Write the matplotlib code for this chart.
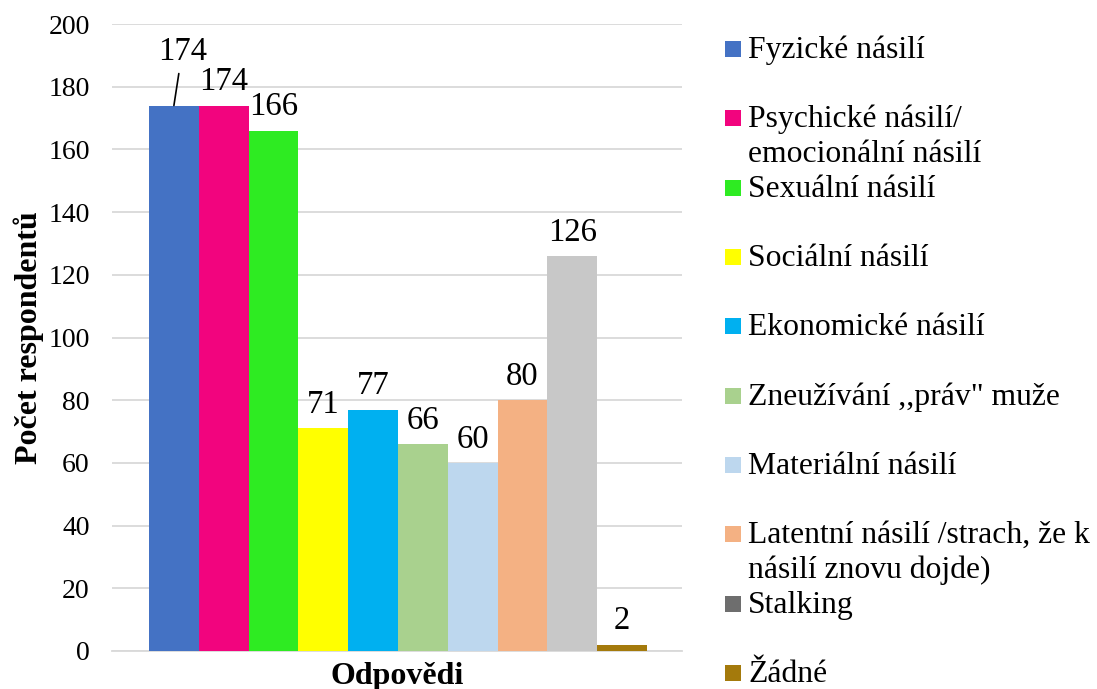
import matplotlib
matplotlib.use("Agg")
import matplotlib.pyplot as plt
from matplotlib.patches import Rectangle

plt.rcParams['font.family'] = ['Liberation Serif', 'DejaVu Serif']

categories = [
    "Fyzické násilí",
    "Psychické násilí/\nemocionální násilí",
    "Sexuální násilí",
    "Sociální násilí",
    "Ekonomické násilí",
    "Zneužívání ,,práv\" muže",
    "Materiální násilí",
    "Latentní násilí /strach, že k\nnásilí znovu dojde)",
    "Stalking",
    "Žádné",
]
values = [174, 174, 166, 71, 77, 66, 60, 80, 126, 2]
bar_colors = ["#4472C4", "#F2047E", "#2EEB22", "#FFFF00", "#00B0F0",
              "#A9D18E", "#BDD7EE", "#F4B183", "#C8C8C8", "#A47A0C"]
legend_colors = ["#4472C4", "#F2047E", "#2EEB22", "#FFFF00", "#00B0F0",
                 "#A9D18E", "#BDD7EE", "#F4B183", "#6E6E6E", "#A47A0C"]
yticks = [0, 20, 40, 60, 80, 100, 120, 140, 160, 180, 200]
ylabel = "Počet respondentů"
xlabel = "Odpovědi"

W, H = 1097, 689
fig = plt.figure(figsize=(W / 100, H / 100), dpi=100)
ax = fig.add_axes([112 / W, 1 - 651 / H, (682 - 112) / W, (651 - 24) / H])

x = list(range(len(values)))
ax.bar(x, values, width=1.0, color=bar_colors, zorder=3)

ax.set_xlim(-1.243, 10.203)
ax.set_ylim(0, 200)
ax.set_yticks(yticks)
ax.set_yticklabels([str(t) for t in yticks], fontsize=20)
ax.set_xticks([])
ax.yaxis.grid(True, color="#D9D9D9", lw=1.3, zorder=0)
for s in ["left", "right", "top"]:
    ax.spines[s].set_visible(False)
ax.spines["bottom"].set_color("#D9D9D9")
ax.spines["bottom"].set_linewidth(1.3)
ax.tick_params(axis='y', length=0, pad=16)

ax.set_ylabel(ylabel, fontsize=23, fontweight='bold', labelpad=3)
ax.set_xlabel(xlabel, fontsize=23, fontweight='bold', labelpad=8)

# data labels
for i, v in enumerate(values):
    if i == 0:
        ax.annotate(str(v), xy=(i, v), xytext=(6, 33), textcoords='offset points',
                    ha='center', va='baseline', fontsize=23.5,
                    arrowprops=dict(arrowstyle='-', color='black', lw=1.2,
                                    shrinkA=3, shrinkB=0))
    else:
        ax.annotate(str(v), xy=(i, v), xytext=(0, 11), textcoords='offset points',
                    ha='center', va='baseline', fontsize=23.5)

# legend (manual, Excel style with fixed spacing)
sq = 16
y0 = 49
step = 69.33
for i, (lab, col) in enumerate(zip(categories, legend_colors)):
    yc = y0 + i * step
    fig.patches.append(Rectangle(((733 - sq / 2) / W, 1 - (yc + sq / 2) / H),
                                 sq / W, sq / H, transform=fig.transFigure,
                                 facecolor=col, edgecolor='none'))
    for j, line in enumerate(lab.split("\n")):
        fig.text(748 / W, 1 - (yc + 9 + j * 35) / H, line, fontsize=22.8,
                 ha='left', va='baseline')

fig.savefig("out.png", dpi=100)
